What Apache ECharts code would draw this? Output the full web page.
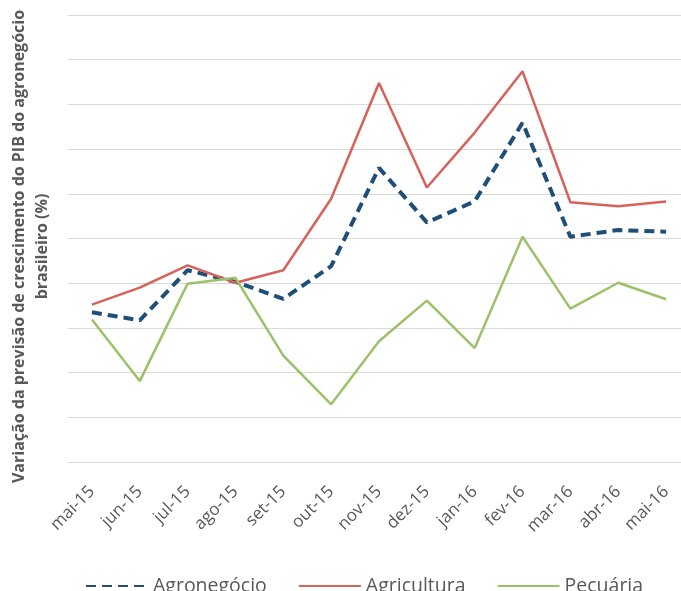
<!DOCTYPE html>
<html>
<head>
<meta charset="utf-8">
<script src="https://cdn.jsdelivr.net/npm/echarts@6/dist/echarts.min.js"></script>
<style>
  html, body { margin: 0; padding: 0; background: #fff; }
  #chart { width: 681px; height: 591px; }
</style>
</head>
<body>
<div id="chart"></div>
<script>
// Meses (mai-15 a mai-16)
const months = ['mai-15', 'jun-15', 'jul-15', 'ago-15', 'set-15', 'out-15', 'nov-15',
  'dez-15', 'jan-16', 'fev-16', 'mar-16', 'abr-16', 'mai-16'];

// valores (eixo sem rótulos)
const agronegocio = [3.35, 3.17, 4.29, 4.03, 3.65, 4.38, 6.58, 5.36, 5.83, 7.59, 5.04, 5.19, 5.15];
const agricultura = [3.52, 3.90, 4.40, 4.01, 4.29, 5.89, 8.48, 6.14, 7.37, 8.74, 5.81, 5.72, 5.83];
const pecuaria = [3.19, 1.81, 3.99, 4.12, 2.38, 1.29, 2.70, 3.61, 2.55, 5.04, 3.43, 4.01, 3.64];

const chart = echarts.init(document.getElementById('chart'));

const font = 'Open Sans, Noto Sans, sans-serif';

const option = {
  backgroundColor: '#fff',
  animation: false,
  textStyle: { fontFamily: font },
  grid: { left: 68, top: 15, width: 622, height: 447, containLabel: false, outerBoundsMode: 'none' },
  legend: {
    top: 571,
    left: 80,
    itemWidth: 62,
    itemHeight: 14,
    itemGap: 31,
    itemStyle: { opacity: 0 },
    textStyle: { color: '#595959', fontSize: 19.5, fontFamily: font },
    data: ['Agronegócio', 'Agricultura', 'Pecuária']
  },
  xAxis: {
    type: 'category',
    data: months,
    boundaryGap: true,
    axisLine: { show: true, lineStyle: { color: '#d9d9d9', width: 1 } },
    axisTick: { show: false },
    axisLabel: { color: '#595959', fontSize: 17, rotate: 45, margin: 27 }
  },
  yAxis: {
    type: 'value',
    min: 0,
    max: 10,
    interval: 1,
    axisLabel: { show: false },
    axisLine: { show: false },
    axisTick: { show: false },
    splitLine: { lineStyle: { color: '#d9d9d9', width: 1 } },
    name: 'Variação da previsão de crescimento do PIB do agronegócio\nbrasileiro (%)',
    nameLocation: 'middle',
    nameGap: 14,
    nameTextStyle: {
      color: '#595959', fontSize: 16, fontWeight: 'bold', lineHeight: 23,
      fontFamily: font, padding: [0, 16, 0, 0]
    }
  },
  series: [
    {
      name: 'Agronegócio',
      type: 'line',
      data: agronegocio,
      symbol: 'none',
      lineStyle: { color: '#1f4e79', width: 4, type: [10, 6] },
      itemStyle: { color: '#1f4e79' }
    },
    {
      name: 'Agricultura',
      type: 'line',
      data: agricultura,
      symbol: 'none',
      lineStyle: { color: '#d6625a', width: 2.5 },
      itemStyle: { color: '#d6625a' }
    },
    {
      name: 'Pecuária',
      type: 'line',
      data: pecuaria,
      symbol: 'none',
      lineStyle: { color: '#9bc16a', width: 2.5 },
      itemStyle: { color: '#9bc16a' }
    }
  ]
};

chart.setOption(option);
</script>
</body>
</html>
